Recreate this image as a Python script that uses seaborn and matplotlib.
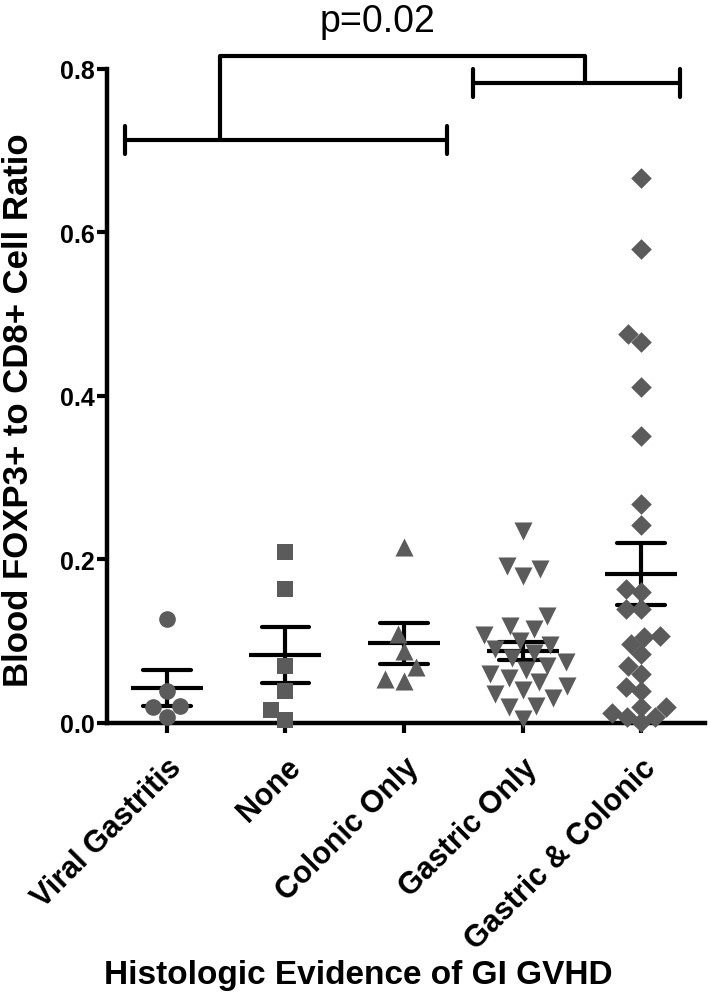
import pandas as pd
import seaborn as sns
import matplotlib.pyplot as plt

# categories and values
groups = ['Viral Gastritis', 'None', 'Colonic Only', 'Gastric Only', 'Gastric & Colonic']
viral_gastritis = [0.127, 0.039, 0.021, 0.020, 0.007]
none_vals = [0.209, 0.164, 0.070, 0.039, 0.016, 0.004]
colonic_only = [0.215, 0.109, 0.088, 0.068, 0.054, 0.051]
gastric_only = [0.235, 0.192, 0.188, 0.180, 0.131, 0.119, 0.115, 0.108, 0.100,
                0.095, 0.090, 0.085, 0.080, 0.075, 0.070, 0.065, 0.060, 0.055,
                0.050, 0.045, 0.040, 0.035, 0.030, 0.021, 0.020, 0.005]
gastric_colonic = [0.667, 0.580, 0.476, 0.466, 0.411, 0.351, 0.268, 0.242,
                   0.164, 0.160, 0.139, 0.139, 0.106, 0.105, 0.097, 0.084,
                   0.070, 0.060, 0.044, 0.039, 0.020, 0.020, 0.012, 0.007,
                   0.007, 0.001]
y_ticks = [0.0, 0.2, 0.4, 0.6, 0.8]
p_text = 'p=0.02'

series = [viral_gastritis, none_vals, colonic_only, gastric_only, gastric_colonic]
df = pd.DataFrame({
    'group': [g for g, vals in zip(groups, series) for _ in vals],
    'value': [v for vals in series for v in vals],
})

sns.set_style('ticks')
plt.rcParams['font.family'] = ['Liberation Sans', 'DejaVu Sans']
for k in ['text.color', 'axes.labelcolor', 'xtick.color', 'ytick.color', 'axes.edgecolor']:
    plt.rcParams[k] = 'black'

fig = plt.figure(figsize=(7.11, 10.04), dpi=100)
ax = fig.add_axes([0.1505, 0.2789, 0.8411, 0.6514])

gray = '#5b5b5b'
markers = {'Viral Gastritis': ('o', 12), 'None': ('s', 12),
           'Colonic Only': ('^', 13), 'Gastric Only': ('v', 13),
           'Gastric & Colonic': ('D', 10.5)}
for g in groups:
    m, s = markers[g]
    sns.swarmplot(data=df[df['group'] == g], x='group', y='value', order=groups,
                  marker=m, size=s, color=gray, linewidth=0, ax=ax, clip_on=False,
                  warn_thresh=1)

sns.pointplot(data=df, x='group', y='value', order=groups, errorbar='se',
              capsize=0.4, color='black', marker='_', markersize=52,
              markeredgewidth=3, linestyle='none', err_kws={'linewidth': 3},
              ax=ax)

ax.set_xlim(-0.506, 4.54)
ax.set_ylim(0, 0.8)
ax.set_yticks(y_ticks)
ax.set_yticklabels([f'{t:.1f}' for t in y_ticks], fontsize=18, fontweight='bold')
ax.set_xticks(range(len(groups)))
ax.set_xticklabels(groups, rotation=45, ha='right', rotation_mode='anchor',
                   fontsize=22, fontweight='bold')
ax.tick_params(axis='both', length=7, width=3)
ax.tick_params(axis='y', pad=2)
ax.tick_params(axis='x', pad=14)
sns.despine(ax=ax)
for sp in ['left', 'bottom']:
    ax.spines[sp].set_linewidth(3.2)

ax.set_ylabel('Blood FOXP3+ to CD8+ Cell Ratio', fontsize=25, fontweight='bold')
ax.yaxis.set_label_coords(-0.12, 0.48)
ax.set_xlabel('Histologic Evidence of GI GVHD', fontsize=24, fontweight='bold', va='top')
ax.xaxis.set_label_coords(0.42, -0.361)

# significance brackets
lw = 3
ax.plot([-0.354, 2.36], [0.713, 0.713], color='black', lw=lw, clip_on=False)
for x in [-0.354, 2.36]:
    ax.plot([x, x], [0.696, 0.730], color='black', lw=lw, clip_on=False)
ax.plot([2.58, 4.33], [0.783, 0.783], color='black', lw=lw, clip_on=False)
for x in [2.58, 4.33]:
    ax.plot([x, x], [0.766, 0.800], color='black', lw=lw, clip_on=False)
ax.plot([0.447, 0.447, 3.53, 3.53], [0.713, 0.816, 0.816, 0.783],
        color='black', lw=lw, clip_on=False)
ax.text(1.78, 0.859, p_text, fontsize=27, ha='center', va='center')

fig.savefig('out.png', dpi=100)
plt.close(fig)
